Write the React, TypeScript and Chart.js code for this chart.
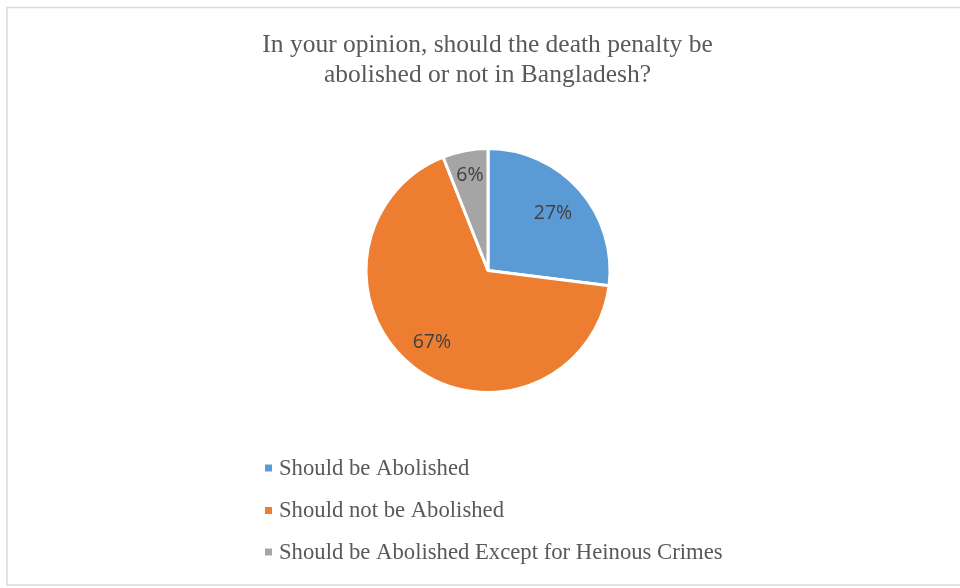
import React, { useEffect, useRef } from "react";
import { Chart, registerables } from "chart.js";

Chart.register(...registerables);

const titleLines = ["In your opinion, should the death penalty be", "abolished or not in Bangladesh?"];
const categories = ["Should be Abolished", "Should not be Abolished", "Should be Abolished Except for Heinous Crimes"];
const shares = [27, 67, 6];
const colors = ["#5B9BD5", "#ED7D31", "#A5A5A5"];

const decorPlugin = {
  id: "decor",
  afterDraw(chart: any) {
    const ctx = chart.ctx as CanvasRenderingContext2D;
    ctx.save();
    // outer frame
    ctx.strokeStyle = "#d9d9d9";
    ctx.lineWidth = 1.5;
    ctx.strokeRect(7, 7.5, 1000, 577.5);
    // title
    ctx.fillStyle = "#595959";
    ctx.font = "25.5px 'Liberation Serif', 'Times New Roman', serif";
    ctx.textAlign = "center";
    ctx.textBaseline = "middle";
    ctx.fillText(titleLines[0], 487.5, 45);
    ctx.fillText(titleLines[1], 487.5, 75);
    // percentage labels
    const meta = chart.getDatasetMeta(0);
    const total = shares.reduce((a, b) => a + b, 0);
    ctx.font = "19.5px 'Open Sans', 'Noto Sans', sans-serif";
    ctx.fillStyle = "#404040";
    const factors = [0.71, 0.75, 0.79];
    meta.data.forEach((arc: any, i: number) => {
      const mid = (arc.startAngle + arc.endAngle) / 2;
      const r = arc.outerRadius * factors[i];
      const x = arc.x + Math.cos(mid) * r;
      const y = arc.y + Math.sin(mid) * r;
      ctx.fillText(Math.round((shares[i] / total) * 100) + "%", x, y);
    });
    // legend
    ctx.textAlign = "left";
    ctx.font = "22.7px 'Liberation Serif', 'Times New Roman', serif";
    const rowY = [468, 510.5, 552];
    categories.forEach((c, i) => {
      ctx.fillStyle = colors[i];
      ctx.fillRect(265, rowY[i] - 3.5, 7, 7);
      ctx.fillStyle = "#595959";
      ctx.fillText(c, 279, rowY[i] + 1);
    });
    ctx.restore();
  },
};

export default function App() {
  const ref = useRef<HTMLCanvasElement>(null);
  useEffect(() => {
    document.body.style.margin = "0";
    const chart = new Chart(ref.current!, {
      type: "pie",
      data: {
        labels: categories,
        datasets: [
          {
            data: shares,
            backgroundColor: colors,
            borderColor: "#ffffff",
            borderWidth: 3,
          },
        ],
      },
      options: {
        animation: false,
        responsive: false,
        events: [],
        layout: { padding: { top: 147, bottom: 194, left: 288, right: 272 } },
        plugins: {
          legend: { display: false },
          title: { display: false },
          tooltip: { enabled: false },
        },
      },
      plugins: [decorPlugin],
    });
    return () => chart.destroy();
  }, []);
  return (
    <div style={{ position: "absolute", left: 0, top: 0, width: 960, height: 588, background: "#fff" }}>
      <canvas ref={ref} width={960} height={588} style={{ width: 960, height: 588 }} />
    </div>
  );
}
